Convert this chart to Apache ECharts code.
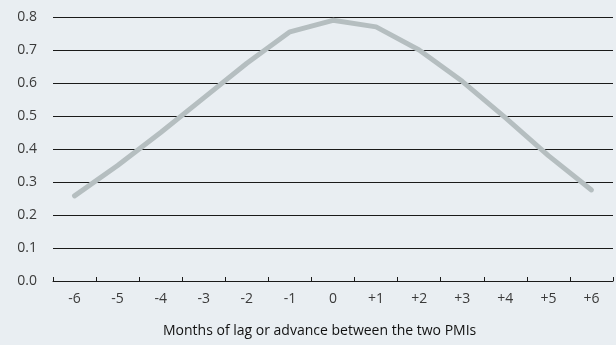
<!DOCTYPE html>
<html>
<head>
<meta charset="utf-8">
<script src="https://cdn.jsdelivr.net/npm/echarts@6/dist/echarts.min.js"></script>
<style>
  html, body { margin: 0; padding: 0; background: #e9eef2; }
  #chart { width: 616px; height: 345px; }
</style>
</head>
<body>
<div id="chart"></div>
<script>
// months of lag / advance
const lagMonths = ['-6', '-5', '-4', '-3', '-2', '-1', '0', '+1', '+2', '+3', '+4', '+5', '+6']
// correlation between the two PMIs
const correlation = [0.258, 0.35, 0.45, 0.555, 0.66, 0.755, 0.79, 0.77, 0.70, 0.605, 0.495, 0.38, 0.276]
const yTicks = [0, 0.1, 0.2, 0.3, 0.4, 0.5, 0.6, 0.7, 0.8]

const font = '"Open Sans", "Noto Sans", sans-serif'

let chart = echarts.init(document.getElementById('chart'))
chart.setOption({
  backgroundColor: '#e9eef2',
  animation: false,
  textStyle: { fontFamily: font },
  grid: { left: 53, right: 3, top: 17, bottom: 64 },
  xAxis: {
    type: 'category',
    data: lagMonths,
    boundaryGap: true,
    axisLine: { lineStyle: { color: '#1a1a1a', width: 1 } },
    axisTick: { show: true, inside: true, length: 4, lineStyle: { color: '#1a1a1a' } },
    axisLabel: { color: '#3a3a3a', fontSize: 14, margin: 11, fontFamily: font }
  },
  yAxis: {
    type: 'value',
    min: yTicks[0],
    max: yTicks[yTicks.length - 1],
    interval: 0.1,
    axisLine: { show: false },
    axisTick: { show: false },
    axisLabel: {
      color: '#3a3a3a', fontSize: 14, margin: 16, fontFamily: font,
      formatter: v => v.toFixed(1)
    },
    splitLine: { lineStyle: { color: '#1a1a1a', width: 1 } }
  },
  graphic: [{
    type: 'text',
    left: 163,
    top: 324,
    style: {
      text: 'Months of lag or advance between the two PMIs',
      fill: '#111',
      font: '14px ' + font
    }
  }],
  series: [{
    type: 'line',
    data: correlation,
    symbol: 'none',
    lineStyle: { color: '#b5bec0', width: 5, cap: 'round', join: 'round' }
  }]
})
</script>
</body>
</html>
